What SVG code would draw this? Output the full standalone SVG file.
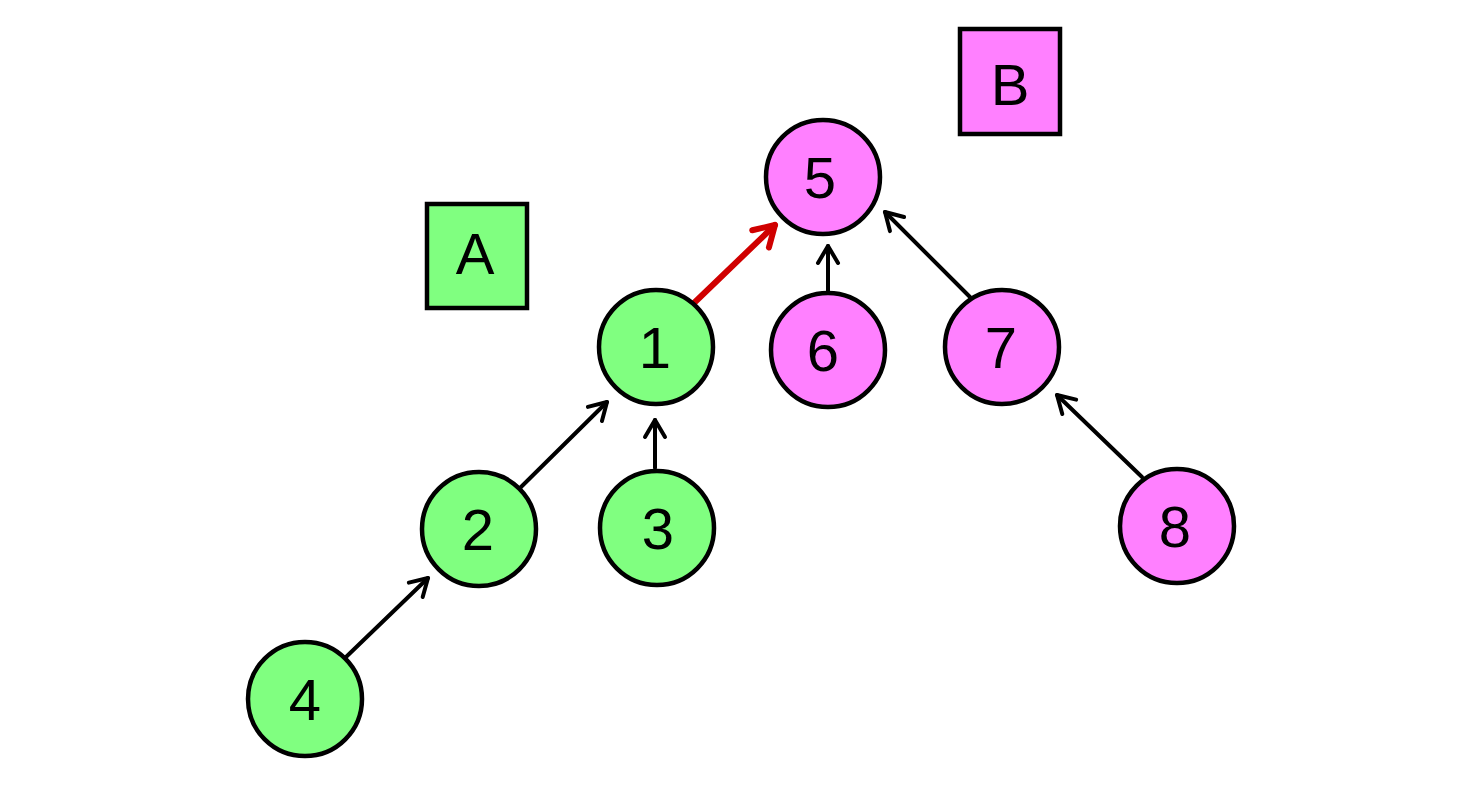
<svg xmlns="http://www.w3.org/2000/svg" width="1458" height="786" viewBox="0 0 1458 786">
<style>
.g{fill:#80ff80;stroke:#000;stroke-width:4.5}
.p{fill:#ff80ff;stroke:#000;stroke-width:4.5}
.t{font-family:"Liberation Sans",Arial,sans-serif;font-size:58px;text-anchor:middle;fill:#000}
.c{fill:none;stroke:#000;stroke-width:4;stroke-linecap:round}
.r{stroke:#d00000;stroke-width:6}
</style>
<defs>
<marker id="ah" markerUnits="userSpaceOnUse" viewBox="-22 -14 26 28" refX="0" refY="0" markerWidth="26" markerHeight="28" orient="auto">
<path d="M -17 -10 L 0 0 L -17 10" fill="none" stroke="#000" stroke-width="4" stroke-linecap="round" stroke-linejoin="round"/>
</marker>
<marker id="ahr" markerUnits="userSpaceOnUse" viewBox="-24 -16 28 32" refX="0" refY="0" markerWidth="28" markerHeight="32" orient="auto">
<path d="M -20 -12 L 0 0 L -20 12" fill="none" stroke="#d00000" stroke-width="6" stroke-linecap="round" stroke-linejoin="round"/>
</marker>
</defs>
<rect width="1458" height="786" fill="#fff"/>
<g id="connectors">
<line class="c" x1="346" y1="657" x2="428" y2="578" marker-end="url(#ah)"/>
<line class="c" x1="520" y1="488" x2="607" y2="402" marker-end="url(#ah)"/>
<line class="c" x1="655" y1="468" x2="655" y2="420" marker-end="url(#ah)"/>
<line class="c r" x1="694" y1="303" x2="775" y2="225" marker-end="url(#ahr)"/>
<line class="c" x1="828" y1="292" x2="828" y2="246" marker-end="url(#ah)"/>
<line class="c" x1="970" y1="297" x2="885" y2="212" marker-end="url(#ah)"/>
<line class="c" x1="1142" y1="477" x2="1057" y2="395" marker-end="url(#ah)"/>
</g>
<g id="nodeA"><rect class="g" x="427" y="204" width="100" height="104"/><text class="t" x="475" y="274">A</text></g>
<g id="nodeB"><rect class="p" x="960" y="29" width="100" height="105"/><text class="t" x="1010" y="105">B</text></g>
<g id="node5"><circle class="p" cx="823" cy="177" r="57"/><text class="t" x="820" y="198">5</text></g>
<g id="node1"><circle class="g" cx="656" cy="347" r="57"/><text class="t" x="655" y="368">1</text></g>
<g id="node6"><circle class="p" cx="828" cy="350" r="57"/><text class="t" x="823" y="371">6</text></g>
<g id="node7"><circle class="p" cx="1002" cy="347" r="57"/><text class="t" x="1001" y="368">7</text></g>
<g id="node2"><circle class="g" cx="479" cy="529" r="57"/><text class="t" x="478" y="550">2</text></g>
<g id="node3"><circle class="g" cx="657" cy="528" r="57"/><text class="t" x="658" y="549">3</text></g>
<g id="node8"><circle class="p" cx="1177" cy="526" r="57"/><text class="t" x="1175" y="547">8</text></g>
<g id="node4"><circle class="g" cx="305" cy="699" r="57"/><text class="t" x="305" y="720">4</text></g>
</svg>
